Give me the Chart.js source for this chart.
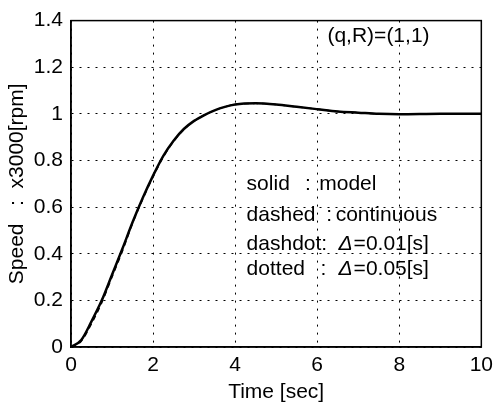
<!DOCTYPE html>
<html>
<head>
<meta charset="utf-8">
<script src="https://cdn.jsdelivr.net/npm/chart.js@4/dist/chart.umd.min.js"></script>
<style>
html,body{margin:0;padding:0;background:#fff;}
canvas{display:block;}
</style>
</head>
<body>
<canvas id="c" width="499" height="407"></canvas>
<script>
// ---- data ----
const timeSec = [0,0.25,0.5,0.75,1,1.25,1.5,1.75,2,2.25,2.5,2.75,3,3.25,3.5,3.75,4,4.5,5,5.5,6,6.5,7,7.5,8,9,10];
const speedModel = [0,0.03,0.11,0.2,0.31,0.42,0.535,0.64,0.735,0.82,0.885,0.935,0.97,0.995,1.015,1.03,1.04,1.045,1.04,1.03,1.02,1.01,1.005,1.0,0.998,1.0,1.0];
const speedContinuous = [0,0.025,0.1,0.19,0.3,0.41,0.53,0.635,0.73,0.815,0.882,0.933,0.969,0.995,1.015,1.03,1.04,1.045,1.04,1.03,1.02,1.01,1.005,1.0,0.998,1.0,1.0];
const xTicks = [0,2,4,6,8,10];
const yTicks = [0,0.2,0.4,0.6,0.8,1,1.2,1.4];
const xTitle = 'Time [sec]';
const yTitle = 'Speed   :  x3000[rpm]';
const caseLabel = '(q,R)=(1,1)';
const legendNames = ['solid', 'dashed', 'dashdot:', 'dotted'];
const legendSeps = [':', ':', '', ':'];
const legendDescs = ['model', 'continuous', '=0.01[s]', '=0.05[s]'];
const legendDelta = [false, false, true, true];

const FONT = '"Liberation Sans", Arial, sans-serif';

const toPts = (xs, ys) => xs.map((x,i)=>({x:x, y:ys[i]}));

const annot = {
  id:'annot',
  afterDraw(chart){
    const ctx = chart.ctx, xs = chart.scales.x, ys = chart.scales.y, a = chart.chartArea;
    ctx.save();
    ctx.strokeStyle = '#000'; ctx.lineWidth = 1.5;
    ctx.strokeRect(a.left, a.top, a.right-a.left, a.bottom-a.top);
    ctx.fillStyle = '#000';
    ctx.textBaseline = 'middle';
    ctx.textAlign = 'left';
    ctx.font = '21px ' + FONT;
    ctx.fillText(caseLabel, xs.getPixelForValue(6.25), ys.getPixelForValue(1.335));
    const rowY = [0.70, 0.565, 0.44, 0.335];
    const sepX = [5.7, 6.22, 0, 6.08];
    const descX = [6.05, 6.45, 6.52, 6.52];
    legendNames.forEach((name,i)=>{
      const y = ys.getPixelForValue(rowY[i]);
      ctx.font = '21px ' + FONT;
      ctx.fillText(name, xs.getPixelForValue(4.28), y);
      if(legendSeps[i]) ctx.fillText(legendSeps[i], xs.getPixelForValue(sepX[i]), y);
      let x = xs.getPixelForValue(descX[i]);
      if(legendDelta[i]){
        ctx.font = 'italic 21px ' + FONT;
        ctx.fillText('Δ', x, y);
        x += ctx.measureText('Δ').width + 1;
        ctx.font = '21px ' + FONT;
      }
      ctx.fillText(legendDescs[i], x, y);
    });
    ctx.restore();
  }
};

new Chart(document.getElementById('c'), {
  type:'line',
  data:{
    datasets:[
      {label:'model', data:toPts(timeSec, speedModel), borderColor:'#000', borderWidth:2.5, pointRadius:0, cubicInterpolationMode:'monotone', fill:false},
      {label:'continuous', data:toPts(timeSec, speedContinuous), borderColor:'#000', borderWidth:1.5, borderDash:[5,4], pointRadius:0, cubicInterpolationMode:'monotone', fill:false}
    ]
  },
  options:{
    responsive:false,
    animation:false,
    layout:{padding:{top:14, right:14, left:0, bottom:0}},
    plugins:{legend:{display:false}, tooltip:{enabled:false}},
    scales:{
      x:{
        type:'linear', min:0, max:10,
        afterBuildTicks(s){ s.ticks = xTicks.map(v=>({value:v})); },
        afterFit(s){ s.height = 60; },
        grid:{color:'#000', lineWidth:1, drawTicks:false},
        border:{display:true, color:'#000', width:1.5, dash:[2,6]},
        ticks:{color:'#000', font:{family:FONT, size:21}, padding:6, maxRotation:0, autoSkip:false},
        title:{display:true, text:xTitle, color:'#000', font:{family:FONT, size:21}, padding:{top:0,bottom:2}}
      },
      y:{
        type:'linear', min:0, max:1.4,
        afterBuildTicks(s){ s.ticks = yTicks.map(v=>({value:v})); },
        afterFit(s){ s.width = 71; },
        grid:{color:'#000', lineWidth:1, drawTicks:false},
        border:{display:true, color:'#000', width:1.5, dash:[2,6]},
        ticks:{color:'#000', font:{family:FONT, size:21}, padding:8, autoSkip:false,
          callback:(v)=> String(Math.round(v*10)/10)},
        title:{display:true, text:yTitle, color:'#000', font:{family:FONT, size:21}, padding:{top:5,bottom:0}}
      }
    }
  },
  plugins:[annot]
});
</script>
</body>
</html>
